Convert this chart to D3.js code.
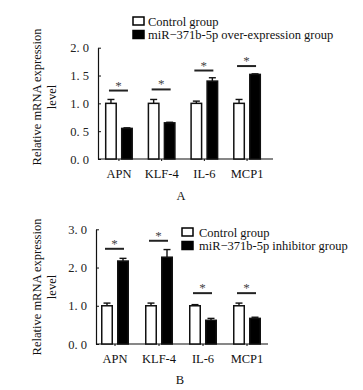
<!DOCTYPE html>
<html>
<head>
<meta charset="utf-8">
<script src="https://cdn.jsdelivr.net/npm/d3@7"></script>
<style>
  body { margin: 0; background: #fff; }
  svg { display: block; font-family: "Liberation Serif", "Times New Roman", serif; }
</style>
</head>
<body>
<script>
const genes = ["APN", "KLF-4", "IL-6", "MCP1"];

// panel A: over-expression
const ctrlA = [1.0, 1.0, 1.0, 1.0];
const ctrlErrA = [0.07, 0.07, 0.04, 0.07];
const overA = [0.55, 0.65, 1.40, 1.52];
const overErrA = [0.01, 0.01, 0.06, 0.01];
const sigA = [1.23, 1.25, 1.59, 1.67];
const ticksA = [0, 0.5, 1.0, 1.5, 2.0];
const tickLabelsA = ["0. 0", "0. 5", "1. 0", "1. 5", "2. 0"];
const legendA = ["Control group", "miR\u2212371b-5p over-expression group"];

// panel B: inhibitor
const ctrlB = [1.0, 1.0, 1.0, 1.0];
const ctrlErrB = [0.07, 0.07, 0.03, 0.07];
const inhB = [2.17, 2.27, 0.62, 0.67];
const inhErrB = [0.07, 0.20, 0.05, 0.03];
const sigB = [2.49, 2.70, 1.33, 1.33];
const ticksB = [0, 1, 2, 3];
const tickLabelsB = ["0. 0", "1. 0", "2. 0", "3. 0"];
const legendB = ["Control group", "miR\u2212371b-5p inhibitor group"];

const W = 363, H = 390;
const svg = d3.select("body").append("svg").attr("width", W).attr("height", H);

function panel(cfg) {
    const g = svg.append("g");
    const y = d3.scaleLinear().domain([0, cfg.yMax]).range([cfg.y0, cfg.yTop]);
    const x = d3.scaleBand().domain(genes).range(cfg.xRange);
    const sub = d3.scaleBand().domain(["c", "t"]).range([0, 28]).paddingInner(0.25);

    // y axis, ticks pointing inward
    const yAxis = g.append("g")
        .attr("transform", `translate(${cfg.axisX},0)`)
        .call(d3.axisLeft(y).tickValues(cfg.ticks).tickFormat((d, i) => cfg.tickLabels[i])
            .tickSize(-3).tickSizeOuter(0).tickPadding(9));
    yAxis.select(".domain").attr("stroke", "#111").attr("stroke-width", 1.2);
    yAxis.selectAll(".tick line").attr("stroke", "#111");
    yAxis.selectAll("text").attr("font-size", 12.5).attr("fill", "#222").attr("font-family", "Liberation Serif");

    // x axis
    const xAxis = g.append("g")
        .attr("transform", `translate(0,${cfg.y0})`)
        .call(d3.axisBottom(x).tickSize(2).tickSizeOuter(0).tickPadding(8));
    xAxis.select(".domain").attr("d", `M${cfg.axisX},0H${cfg.axisEnd}`).attr("stroke", "#111").attr("stroke-width", 1.2);
    xAxis.selectAll(".tick line").attr("stroke", "#111");
    xAxis.selectAll("text").attr("font-size", 12.5).attr("fill", "#111").attr("font-family", "Liberation Serif");

    const groups = g.selectAll(".grp").data(genes).join("g")
        .attr("transform", d => `translate(${x(d) + x.bandwidth() / 2 - 14},0)`);

    const series = [
        { key: "c", vals: cfg.ctrl, errs: cfg.ctrlErr, fill: "#fff" },
        { key: "t", vals: cfg.treat, errs: cfg.treatErr, fill: "#000" }
    ];
    series.forEach(s => {
        const bw = sub.bandwidth();
        groups.append("line")
            .attr("x1", sub(s.key) + bw / 2).attr("x2", sub(s.key) + bw / 2)
            .attr("y1", (d, i) => y(s.vals[i])).attr("y2", (d, i) => y(s.vals[i] + s.errs[i]))
            .attr("stroke", "#111").attr("stroke-width", 1.4);
        groups.append("line")
            .attr("x1", sub(s.key) + bw / 2 - 3.5).attr("x2", sub(s.key) + bw / 2 + 3.5)
            .attr("y1", (d, i) => y(s.vals[i] + s.errs[i])).attr("y2", (d, i) => y(s.vals[i] + s.errs[i]))
            .attr("stroke", "#111").attr("stroke-width", 1.4);
        groups.append("rect")
            .attr("x", sub(s.key) + 0.75).attr("width", bw - 1.5)
            .attr("y", (d, i) => y(s.vals[i]))
            .attr("height", (d, i) => y(0) - y(s.vals[i]))
            .attr("fill", s.fill).attr("stroke", "#111").attr("stroke-width", 1.5);
    });

    // significance lines and stars
    groups.append("line")
        .attr("x1", 4).attr("x2", 23)
        .attr("y1", (d, i) => y(cfg.sig[i])).attr("y2", (d, i) => y(cfg.sig[i]))
        .attr("stroke", "#222").attr("stroke-width", 2);
    groups.append("text")
        .attr("x", 13.5).attr("y", (d, i) => y(cfg.sig[i]) - 1)
        .attr("text-anchor", "middle").attr("font-size", 13).attr("fill", "#444")
        .text("*");

    // y title
    const ty = g.append("text")
        .attr("transform", `translate(${cfg.titleX},${cfg.titleY}) rotate(-90)`)
        .attr("text-anchor", "middle").attr("font-size", 12.5).attr("fill", "#111");
    ty.append("tspan").attr("x", 0).attr("dy", 0).text("Relative mRNA expression");
    ty.append("tspan").attr("x", 0).attr("dy", 15).text("level");

    // legend
    const lg = g.append("g").attr("transform", `translate(${cfg.legX},${cfg.legY})`);
    cfg.legend.forEach((t, i) => {
        lg.append("rect").attr("x", 0).attr("y", i * 13.5 - 4).attr("width", 11).attr("height", 8)
            .attr("fill", i === 0 ? "#fff" : "#000").attr("stroke", "#000").attr("stroke-width", 1.5);
        lg.append("text").attr("x", cfg.legTextDx).attr("y", i * 13.5 + 4.5)
            .attr("font-size", 12.5).attr("fill", "#111").text(t);
    });

    svg.append("text").attr("x", cfg.labelX).attr("y", cfg.labelY)
        .attr("text-anchor", "middle").attr("font-size", 12.5).attr("fill", "#111").text(cfg.label);
}

panel({
    yMax: 2, y0: 159, yTop: 47.7, axisX: 98, axisEnd: 273, xRange: [97.6, 268.4],
    ctrl: ctrlA, ctrlErr: ctrlErrA, treat: overA, treatErr: overErrA, sig: sigA,
    ticks: ticksA, tickLabels: tickLabelsA, legend: legendA,
    titleX: 41, titleY: 97, legX: 133, legY: 21, legTextDx: 15,
    label: "A", labelX: 181, labelY: 200
});

panel({
    yMax: 3, y0: 344, yTop: 229.3, axisX: 96, axisEnd: 268, xRange: [93, 269],
    ctrl: ctrlB, ctrlErr: ctrlErrB, treat: inhB, treatErr: inhErrB, sig: sigB,
    ticks: ticksB, tickLabels: tickLabelsB, legend: legendB,
    titleX: 41, titleY: 287, legX: 182, legY: 232, legTextDx: 17,
    label: "B", labelX: 180, labelY: 384
});
</script>
</body>
</html>
